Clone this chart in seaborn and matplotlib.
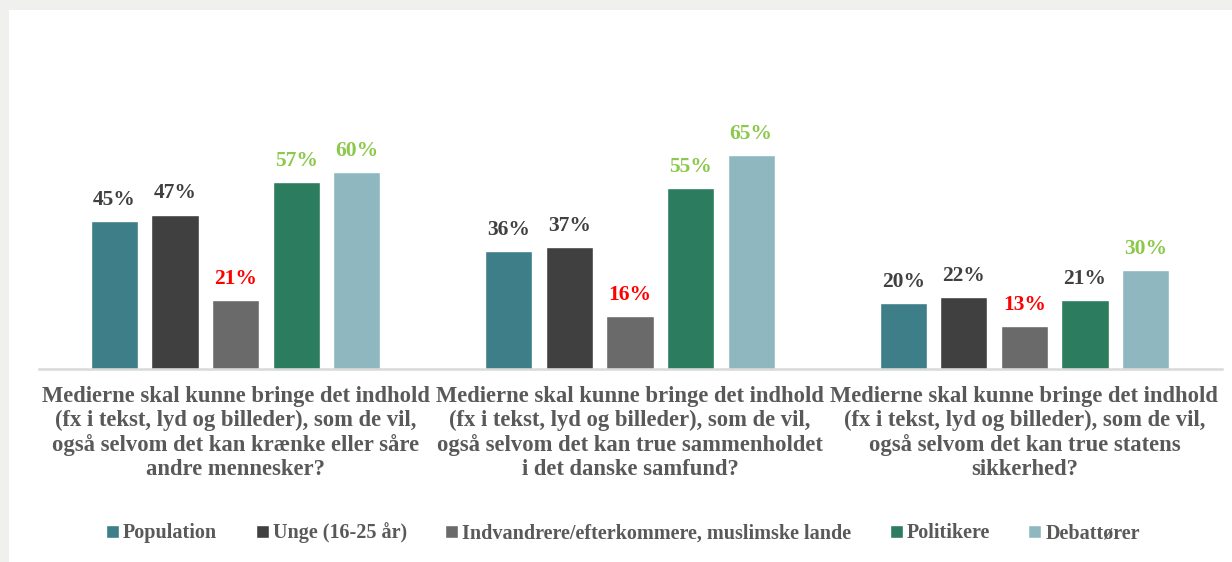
import pandas as pd
import matplotlib
matplotlib.use("Agg")
import matplotlib.pyplot as plt
from matplotlib.patches import Rectangle
import seaborn as sns

# Data
questions = [
    "Medierne skal kunne bringe det indhold\n(fx i tekst, lyd og billeder), som de vil,\nogså selvom det kan krænke eller såre\nandre mennesker?",
    "Medierne skal kunne bringe det indhold\n(fx i tekst, lyd og billeder), som de vil,\nogså selvom det kan true sammenholdet\ni det danske samfund?",
    "Medierne skal kunne bringe det indhold\n(fx i tekst, lyd og billeder), som de vil,\nogså selvom det kan true statens\nsikkerhed?",
]
groups = ["Population", "Unge (16-25 år)", "Indvandrere/efterkommere, muslimske lande",
          "Politikere", "Debattører"]
population = [45, 36, 20]
unge = [47, 37, 22]
indvandrere = [21, 16, 13]
politikere = [57, 55, 21]
debattoerer = [60, 65, 30]

# label colour per group (rows) and question (cols)
DARK, RED, GREEN = "#404040", "#ff0000", "#8cc84b"
label_colors = [
    [DARK, DARK, DARK],
    [DARK, DARK, DARK],
    [RED, RED, RED],
    [GREEN, GREEN, DARK],
    [GREEN, GREEN, GREEN],
]
palette = ["#3e7e88", "#404040", "#6a6a6a", "#2c7c5f", "#8eb7bf"]

series = [population, unge, indvandrere, politikere, debattoerer]
rows = []
for g, vals in zip(groups, series):
    for q, v in zip(questions, vals):
        rows.append({"question": q, "group": g, "value": v})
df = pd.DataFrame(rows)

sns.set_style("white")
plt.rcParams["font.family"] = ["Liberation Serif", "DejaVu Serif"]
plt.rcParams["font.weight"] = "bold"

fig = plt.figure(figsize=(12.32, 5.62), dpi=100)
fig.patch.set_facecolor("#f0f0ee")
fig.add_artist(Rectangle((9 / 1232, 0), 1, 552 / 562, transform=fig.transFigure,
                         facecolor="white", edgecolor="none", zorder=-1))

ax = fig.add_axes([38.5 / 1232, 1 - 369 / 562, 1183 / 1232, 230 / 562])
ax.patch.set_alpha(0)

sns.barplot(data=df, x="question", y="value", hue="group", palette=palette,
            width=0.768, gap=0.22, ax=ax, saturation=1, legend=True)

for i, cont in enumerate(ax.containers):
    texts = ax.bar_label(cont, labels=[f"{v}%" for v in series[i]], padding=8,
                         fontsize=15.5, fontweight="bold")
    for t, c in zip(texts, label_colors[i]):
        t.set_color(c)

ax.set_ylim(0, 70)
ax.set_xlim(-0.5, 2.5)
ax.set_xlabel("")
ax.set_ylabel("")
ax.set_yticks([])
ax.tick_params(axis="x", length=0, pad=12, labelsize=16.3, labelcolor="#595959")
for lbl in ax.get_xticklabels():
    lbl.set_linespacing(1.18)
    lbl.set_fontweight("bold")
for s in ["top", "left", "right"]:
    ax.spines[s].set_visible(False)
ax.spines["bottom"].set_color("#d9d9d9")
ax.spines["bottom"].set_linewidth(1.8)

handles, labels = ax.get_legend_handles_labels()
ax.get_legend().remove()
leg = fig.legend(handles, labels, loc="center", bbox_to_anchor=(623 / 1232, 1 - 533 / 562),
                 ncol=5, frameon=False, fontsize=14.5, handlelength=0.65, handleheight=0.65,
                 handletextpad=0.2, columnspacing=1.9)
for t in leg.get_texts():
    t.set_color("#595959")
    t.set_fontweight("bold")

fig.savefig("out.png", dpi=100, facecolor=fig.get_facecolor())
